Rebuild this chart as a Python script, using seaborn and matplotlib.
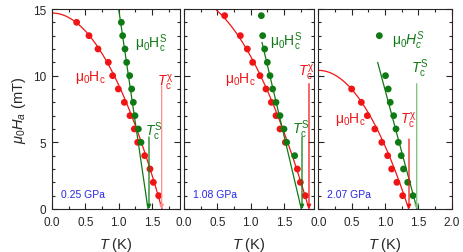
import numpy as np
import pandas as pd
import matplotlib
matplotlib.use('Agg')
import matplotlib.pyplot as plt
from matplotlib.ticker import MultipleLocator
import seaborn as sns

# ---------- data ----------
pressures = ['0.25 GPa', '1.08 GPa', '2.07 GPa']

# red points: mu0 Hc (T in K, H in mT)
hc_T_1 = [0.37, 0.555, 0.69, 0.845, 0.91, 0.995, 1.085, 1.17, 1.235, 1.285, 1.39, 1.47, 1.52, 1.60]
hc_H_1 = [14, 13, 12, 11, 10, 9, 8, 7, 6, 5, 4, 3, 2, 1]
hc_T_2 = [0.61, 0.845, 0.95, 1.03, 1.14, 1.23, 1.31, 1.38, 1.44, 1.52, 1.70, 1.745, 1.82]
hc_H_2 = [14.5, 13, 12, 11, 10, 9, 8, 7, 6, 5, 3, 2, 1]
hc_T_3 = [0.50, 0.645, 0.735, 0.848, 0.952, 1.04, 1.10, 1.178, 1.265]
hc_H_3 = [9, 8, 7, 6, 5, 4, 3, 2, 1]

# green points: mu0 Hc^S
hs_T_1 = [1.04, 1.06, 1.095, 1.12, 1.165, 1.195, 1.22, 1.245, 1.295, 1.335]
hs_H_1 = [14, 13, 12, 11, 10, 9, 8, 7, 6, 5]
hs_T_2 = [1.16, 1.18, 1.21, 1.25, 1.29, 1.33, 1.38, 1.44, 1.50, 1.54, 1.66]
hs_H_2 = [14.5, 13, 12, 11, 10, 9, 8, 7, 6, 5, 4]
hs_T_3 = [0.915, 1.008, 1.048, 1.078, 1.13, 1.165, 1.20, 1.243, 1.278, 1.34, 1.42]
hs_H_3 = [13, 10, 9, 8, 7, 6, 5, 4, 3, 2, 1]

# fitted Hc(T) = Hc0 (1 - (T/Tc)^2)
fit_Hc0 = [14.7, 16.0, 10.4]
fit_Tc = [1.65, 1.875, 1.355]

# straight green fit lines: (T_top, H_top) -> (T_end, 0)
hs_line_T = [[1.00, 1.44], [1.17, 1.76], [0.89, 1.48]]
hs_line_H = [[15.0, 0.0], [12.5, 0.0], [11.0, 0.0]]

# Tc markers (vertical arrows): T and top height
tchi_T = [1.645, 1.875, 1.36]
tchi_top = [9.25, 9.4, 5.25]
ts_T = [1.455, 1.77, 1.475]
ts_top = [5.4, 5.4, 9.4]

x_max = [1.92, 1.95, 2.0]

RED = '#f01414'
GREEN = '#0f7a14'
BLUE = '#2626e6'
LIGHT_RED = '#ff8c8c'
LIGHT_GREEN = '#7cc07c'

sns.set_style('ticks')
plt.rcParams['font.family'] = ['Liberation Sans', 'DejaVu Sans']
plt.rcParams['mathtext.fontset'] = 'custom'
plt.rcParams['mathtext.rm'] = 'Liberation Sans'
plt.rcParams['mathtext.it'] = 'Liberation Sans:italic'
plt.rcParams['mathtext.sf'] = 'Liberation Sans'

fig = plt.figure(figsize=(4.63, 2.53), dpi=100)
lefts = [52, 184, 318.3]
widths = [128, 130, 133.4]
axes = [fig.add_axes([l / 463, 43 / 253, w / 463, 200 / 253]) for l, w in zip(lefts, widths)]

hc_T = [hc_T_1, hc_T_2, hc_T_3]
hc_H = [hc_H_1, hc_H_2, hc_H_3]
hs_T = [hs_T_1, hs_T_2, hs_T_3]
hs_H = [hs_H_1, hs_H_2, hs_H_3]

# label positions (T, H) per panel
lab_hc_pos = [(0.35, 9.9), (0.61, 9.8), (0.25, 6.8)]
lab_hs_pos = [(1.245, 12.5), (1.29, 12.6), (1.11, 12.7)]
lab_tchi_pos = [(1.57, 9.5), (1.71, 10.3), (1.23, 6.7)]
lab_ts_pos = [(1.39, 5.9), (1.62, 6.0), (1.39, 10.6)]
tchi_col = [LIGHT_RED, RED, RED]
ts_col = [GREEN, GREEN, LIGHT_GREEN]

for i, ax in enumerate(axes):
    # Hc fit curve
    tt = np.linspace(0, fit_Tc[i], 200)
    hh = fit_Hc0[i] * (1 - (tt / fit_Tc[i]) ** 2)
    sns.lineplot(x=tt, y=hh, ax=ax, color=RED, lw=0.9, sort=False)
    sns.lineplot(x=hs_line_T[i], y=hs_line_H[i], ax=ax, color=GREEN, lw=0.9, sort=False)

    sns.scatterplot(x=hc_T[i], y=hc_H[i], ax=ax, color=RED, s=24, edgecolor='none', zorder=3)
    sns.scatterplot(x=hs_T[i], y=hs_H[i], ax=ax, color=GREEN, s=24, edgecolor='none', zorder=3)

    ax.annotate('', xy=(tchi_T[i], 0), xytext=(tchi_T[i], tchi_top[i]),
                arrowprops=dict(arrowstyle='-|>', color=tchi_col[i], lw=0.9,
                                mutation_scale=6, shrinkA=0, shrinkB=0))
    ax.annotate('', xy=(ts_T[i], 0), xytext=(ts_T[i], ts_top[i]),
                arrowprops=dict(arrowstyle='-|>', color=ts_col[i], lw=0.9,
                                mutation_scale=6, shrinkA=0, shrinkB=0))

    if i < 2:
        lab_hs = r'$\mathrm{μ_0H_c^S}$'
    else:
        lab_hs = r'$\mathrm{μ_0}H_c^S$'
    ax.text(*lab_hc_pos[i], r'$\mathrm{μ_0H_c}$', color=RED, fontsize=10, va='center')
    ax.text(*lab_hs_pos[i], lab_hs, color=GREEN, fontsize=10, va='center')
    ax.text(*lab_tchi_pos[i], r'$T_\mathrm{c}^\mathrm{χ}$', color=RED, fontsize=10, va='center')
    ax.text(*lab_ts_pos[i], r'$T_\mathrm{c}^\mathrm{S}$', color=GREEN, fontsize=10, va='center')
    ax.text(0.13, 1.1, pressures[i], color=BLUE, fontsize=7.5, va='center')

    ax.set_xlim(0, x_max[i])
    ax.set_ylim(0, 15)
    ax.xaxis.set_major_locator(MultipleLocator(0.5))
    ax.xaxis.set_minor_locator(MultipleLocator(0.25))
    ax.yaxis.set_major_locator(MultipleLocator(5))
    ax.yaxis.set_minor_locator(MultipleLocator(1))
    ax.xaxis.set_major_formatter(plt.FormatStrFormatter('%.1f'))
    ax.tick_params(which='both', direction='in', top=True, right=True, labelsize=8.5,
                   width=0.8)
    ax.tick_params(axis='x', pad=5)
    ax.tick_params(axis='y', pad=4)
    ax.tick_params(which='major', length=4.5)
    ax.tick_params(which='minor', length=2.5)
    for sp in ax.spines.values():
        sp.set_linewidth(0.8)
        sp.set_visible(True)
    ax.set_xlabel(r'$T$ (K)', fontsize=10.5, labelpad=5)
    if i == 0:
        ax.set_ylabel(r'$μ_0H_a$ (mT)', fontsize=10.5, labelpad=4)
    else:
        ax.set_ylabel('')
        ax.tick_params(labelleft=False)

fig.savefig('out.png', dpi=100)
